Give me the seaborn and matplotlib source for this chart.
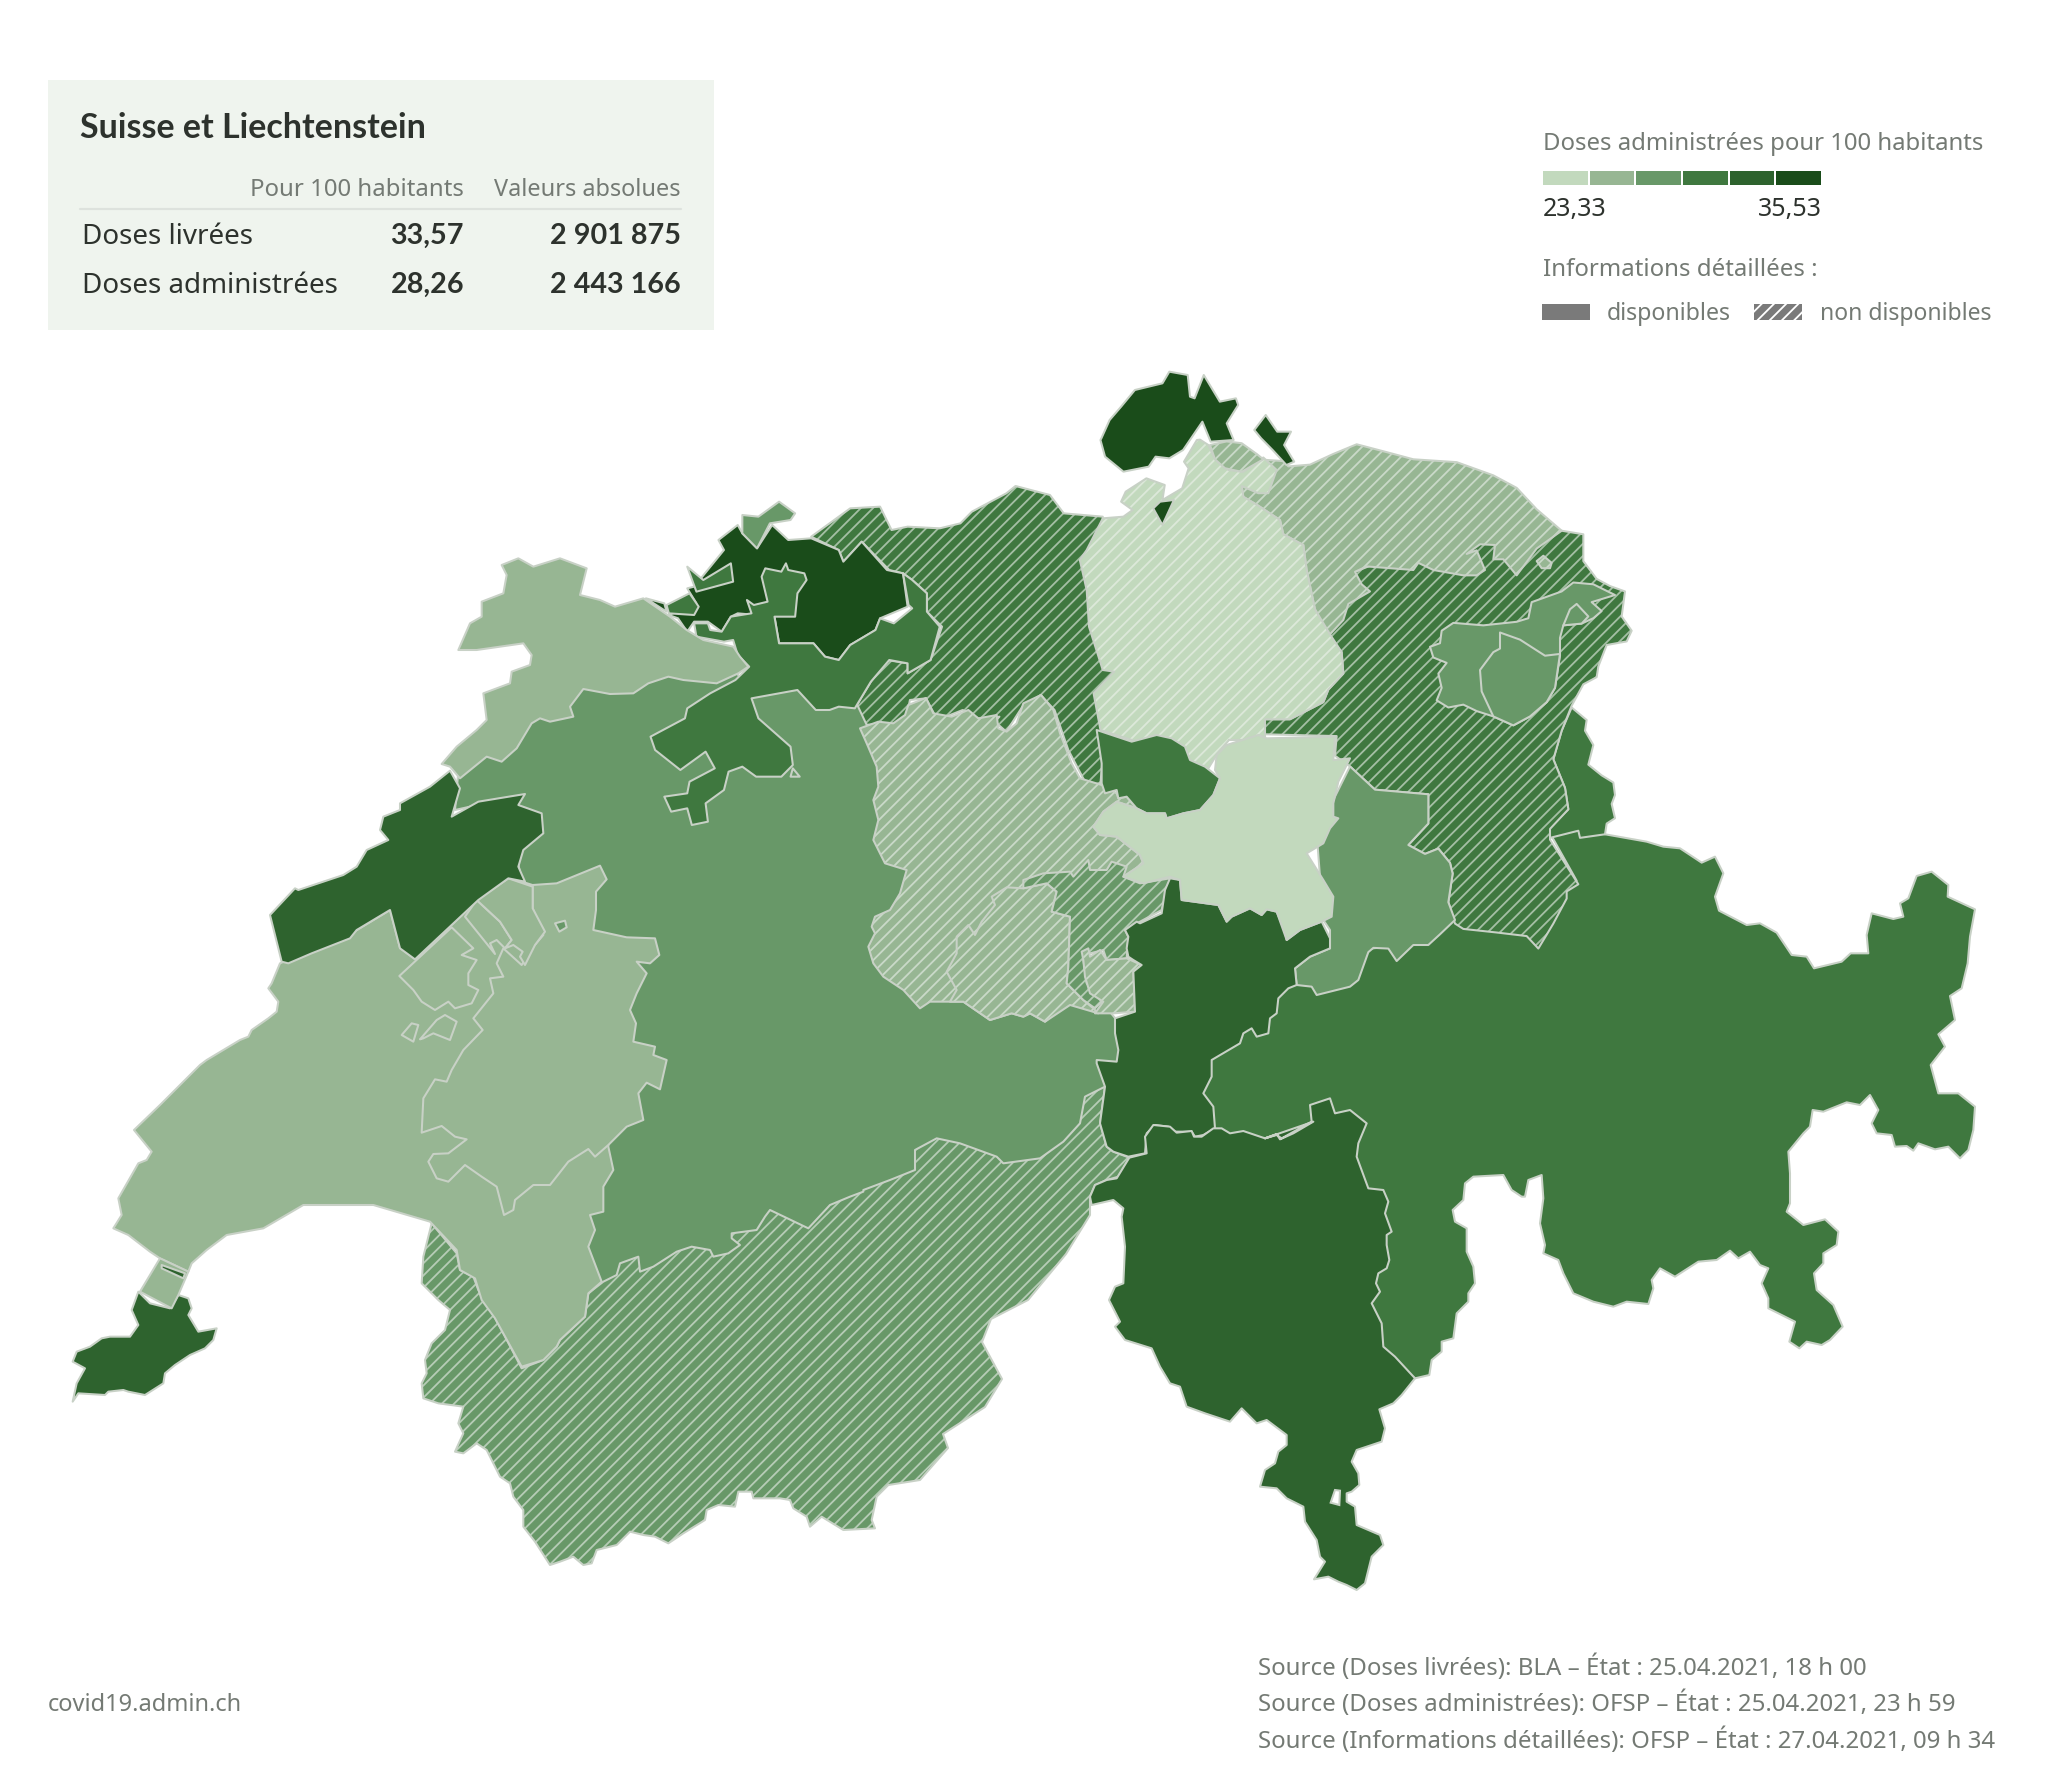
"""Doses de vaccin administrées par canton, Suisse et Liechtenstein."""

import numpy as np
import matplotlib.pyplot as plt
import seaborn as sns
from matplotlib.colors import ListedColormap, to_rgb
from matplotlib.patches import Rectangle

DPI = 110
W, H = 2048, 1772

# colours of the six classes
level_colors = ["#c2d9bd", "#97b693", "#689868", "#3f783f", "#2e632e", "#1a4c1a"]
edge_color = "#c8d1c6"

box_title = "Suisse et Liechtenstein"
box_headers = ["Pour 100 habitants", "Valeurs absolues"]
box_rows = ["Doses livrées", "Doses administrées"]
box_per_100 = ["33,57", "28,26"]
box_absolute = ["2 901 875", "2 443 166"]

legend_title = "Doses administrées pour 100 habitants"
legend_min, legend_max = "23,33", "35,53"
legend_info = "Informations détaillées :"
legend_avail = ["disponibles", "non disponibles"]

sources = [
    "Source (Doses livrées): BLA – État : 25.04.2021, 18 h 00",
    "Source (Doses administrées): OFSP – État : 25.04.2021, 23 h 59",
    "Source (Informations détaillées): OFSP – État : 27.04.2021, 09 h 34",
]
site = "covid19.admin.ch"


def crop(view, pts):
    x0, y0, fx, fy = view
    return [(x0 + x / fx, y0 + y / fy) for x, y in pts]


V4 = (600, 360, 2.178, 3)
V5 = (1200, 420, 3, 2.8)
V6 = (340, 850, 3, 3)
V7 = (260, 540, 3, 3)
V8 = (60, 950, 3, 3)
V9 = (850, 700, 3, 3)
V10 = (420, 1130, 3, 3)
V11 = (1090, 1120, 3, 3)
V12 = (1520, 840, 3, 3)

gr = crop(V12, [(380,5),(430,20),(480,25),(545,68),(585,50),(610,100),(585,170),(597,212),(680,255),(720,250),(770,278),(815,345),(860,350),(882,385),(965,365),(992,340),(1045,340),(1040,285),(1055,220),(1120,237),(1150,230),(1140,190),(1165,175),(1190,108),(1235,95),(1285,135),(1283,170),(1365,208),(1350,290),(1343,370),(1325,445),(1290,468),(1305,540),(1255,583),(1275,620),(1232,675),(1255,760),(1315,760),(1365,800),(1360,870),(1345,930),(1320,955),(1285,920),(1245,928),(1195,910),(1180,932),(1160,918),(1125,920),(1115,885),(1070,880),(1055,850),(1075,810),(1050,765),(1020,795),(980,787),(910,815),(878,810),(870,860),(850,880),(805,935),(810,1000),(810,1090),(800,1115),(850,1155),(915,1138),(955,1175),(950,1215),(910,1240),(910,1270),(882,1300),(890,1350),(940,1395),(968,1460),(930,1500),(905,1515),(860,1505),(838,1525),(808,1505),(825,1445),(745,1405),(745,1375),(725,1330),(745,1285),(720,1275),(690,1235),(655,1255),(630,1232),(590,1260),(535,1265),(465,1310),(420,1285),(395,1320),(400,1345),(385,1392),(320,1385),(280,1400),(220,1385),(160,1360),(130,1300),(115,1260),(70,1240),(75,1215),(60,1150),(70,1075),(65,1005),(25,1020),(15,1070)]) \
    + crop(V11, [(1295,230),(1265,210),(1240,165),(1150,170),(1125,190),(1120,240),(1088,270),(1095,305),(1130,325),(1130,395),(1150,440),(1155,490),(1135,520),(1135,545),(1100,580),(1090,655),(1055,665),(1055,695),(1025,720),(1018,765),(975,775),(860,690),(820,550),(840,440),(790,110),(500,100),(200,100)]) \
    + crop(V9, [(1050,1200),(1050,1090),(1160,1000),(1200,970),(1250,980),(1270,890),(1330,850)]) \
    + crop(V5, [(510,1480),(630,1470),(720,1400),(790,1400),(1000,1420),(1040,1400),(1080,1300),(1130,1290),(1040,1140),(1140,1130),(1200,1130),(1215,1160)])

fl = crop(V5, [(1115,805),(1160,840),(1155,870),(1180,910),(1165,965),(1205,995),(1240,1015),(1245,1050),(1235,1075),(1245,1115),(1220,1130),(1215,1160),(1140,1170),(1135,1150),(1050,1170),(1045,1145),(1105,1090),(1095,1030),(1060,950),(1085,870)])

sg = crop(V5, [(1085,310),(1150,320),(1150,395),(1190,445),(1230,465),(1275,480),(1265,550),(1295,590),(1280,620),(1220,630),(1195,690),(1190,720),(1150,740),(1115,800),(1085,870),(1060,950),(1095,1030),(1105,1090),(1050,1145),(1050,1175),(1135,1300),(1100,1320),(1100,1340),(1060,1410),(1015,1480),(980,1445),(890,1435),(790,1425),(765,1410),(745,1350),(758,1270),(750,1240),(715,1200),(675,1215),(625,1190),(685,1130),(685,1048),(525,1035),(450,970),(405,940),(410,885),(195,880),(195,838),(270,838),(370,790),(385,755),(430,710),(425,650),(385,605),(465,425),(800,300)])

ar = crop(V5, [(690,635),(720,625),(725,590),(760,568),(850,575),(950,565),(985,555),(995,510),(1085,480),(1120,455),(1180,460),(1245,490),(1175,510),(1205,535),(1180,555),(1145,570),(1090,575),(1080,610),(1080,660),(1065,750),(1040,790),(990,830),(940,855),(880,830),(830,815),(790,797),(745,805),(710,785),(725,750),(715,710),(740,680),(700,665)])
ai = crop(V5, [(900,595),(960,615),(1035,660),(1080,655),(1065,750),(1040,790),(990,830),(940,855),(880,830),(845,760),(840,700),(880,650),(900,640)])
ai_small = crop(V5, [(1090,575),(1110,530),(1130,515),(1165,550),(1145,570)])

tg = crop(V5, [(170,110),(250,115),(265,130),(330,125),(400,95),(470,68),(560,90),(640,110),(770,118),(880,155),(950,190),(1010,250),(1085,310),(1010,360),(950,435),(910,390),(880,390),(885,350),(840,348),(800,375),(830,365),(855,420),(830,435),(790,435),(700,420),(655,400),(640,420),(570,415),(500,410),(465,425),(485,460),(510,480),(445,515),(430,560),(385,605),(345,530),(320,420),(310,350),(250,320),(240,280),(175,240),(130,215),(125,185)])
tg_small = crop(V5, [(30,70),(45,110),(75,135),(125,145),(190,110),(170,95),(125,65),(80,60)])
tg_lake = crop(V5, [(1010,395),(1030,380),(1055,400),(1050,415),(1025,415)])

zh = crop(V4, [(1095,475),(1060,570),(1045,600),(1060,690),(1065,800),(1095,930),(1120,935),(1075,1000),(1090,1110),(1170,1145),(1210,1125),(1250,1140),(1290,1215),(1325,1225),(1345,1180),(1370,1140)]) \
    + crop(V5, [(87,896),(195,896),(195,838),(270,838),(370,790),(385,755),(430,710),(425,650),(390,600),(345,530),(320,420),(310,350),(250,320),(240,280),(175,240),(130,215),(125,185),(175,205),(205,205),(230,140),(190,105),(130,145),(85,140),(45,110),(25,70),(0,55)]) \
    + crop(V4, [(1300,240),(1272,305),(1282,325),(1268,385),(1225,420),(1230,375),(1190,355),(1145,395),(1135,425),(1160,450),(1140,470)])

sh = crop(V4, [(1092,235),(1110,180),(1135,140),(1165,90),(1225,70),(1240,35),(1280,45),(1285,110),(1295,115),(1315,45),(1350,125),(1385,115),(1390,135),(1365,190),(1380,240),(1330,245),(1312,185),(1270,270),(1240,295),(1210,290),(1195,320),(1140,335),(1100,290),(1090,240)])
sh_east = crop(V4, [(1450,165),(1475,215),(1505,215),(1490,255),(1512,305),(1495,315),(1465,270),(1440,235),(1425,210)])
sh_small = crop(V4, [(1205,445),(1220,425),(1250,420),(1225,495)])

gl = crop(V5, [(450,970),(525,1035),(685,1048),(685,1130),(625,1190),(675,1215),(715,1200),(750,1240),(758,1270),(745,1350),(765,1400),(720,1440),(685,1470),(640,1470),(590,1515),(565,1480),(520,1478),(505,1490),(475,1568)]) \
    + crop(V9, [(1500,860),(1400,885),(1385,860),(1340,855),(1335,805),(1380,770),(1440,745),(1440,690),(1420,660),(1400,400)])

be = [(1115,1018),(1125,1050),(1120,1100),(1090,1130),(1000,1200),(800,1270),(640,1330),(585,1300),(570,1200),(600,1050),(560,920),(523,885),(515,850),(500,800),(455,810),(458,775),(530,715),(580,680),(680,670),(735,668),(745,690),(800,685),(855,700),(870,732),(900,740),(960,900),(1040,960),(1100,1000)]

vs = crop(V10, [(35,280),(10,380),(5,460),(55,510),(90,540),(75,600),(35,640),(15,690),(20,730),(5,760),(10,805),(55,820),(130,830),(115,880),(130,910),(105,965),(130,970),(170,940),(200,960),(240,1040),(270,1060),(280,1100),(310,1140),(310,1190),(345,1235),(390,1305),(420,1295),(460,1280),(490,1305),(515,1300),(530,1260),(590,1245),(630,1205),(670,1215),(705,1220),(745,1240),(790,1210),(855,1170),(860,1140),(895,1125),(945,1130),(955,1085),(995,1085),(1000,1105),(1080,1105),(1110,1110),(1120,1135),(1160,1160),(1170,1190),(1205,1160),(1270,1200),(1365,1195),(1355,1170),(1370,1100),(1405,1065),(1500,1050)]) \
    + [(948,1448),(943,1434),(985,1407),(1002,1379),(982,1342),(991,1319),(1028,1300),(1066,1254),(1090,1215)] \
    + crop(V11, [(0,230),(15,195),(50,180),(85,170),(118,113)]) \
    + crop(V9, [(790,1355),(770,1340),(750,1270),(765,1160),(705,1190),(690,1270),(640,1325),(570,1375),(460,1390),(440,1370),(385,1350),(330,1330),(260,1315),(195,1350),(195,1410),(120,1440),(40,1470)]) \
    + crop(V10, [(1330,185),(1290,200),(1230,225),(1165,295),(1050,240),(1035,260),(1010,300),(935,310),(935,325),(960,345),(925,370),(880,380),(870,360),(815,350),(770,365),(700,410),(660,425),(655,380),(600,400),(590,435),(550,455),(505,490),(495,560),(420,630),(410,650),(370,690),(305,715),(250,610),(215,545),(175,480),(160,440),(120,420),(110,370)])

vd = crop(V8, [(660,40),(635,100),(625,115),(655,155),(650,185),(625,205),(575,240),(565,260),(540,270),(440,330),(420,345),(300,465),(222,540),(275,605),(260,630),(235,640),(175,745),(185,795),(160,835),(205,855),(270,905),(300,925),(385,965),(395,940),(440,900),(500,855),(610,835),(730,765),(940,765),(1110,815),(1190,900),(1200,960),(1245,985),(1265,1050),(1305,1105),(1385,1250)]) \
    + crop(V10, [(370,690),(410,650),(420,630),(495,560),(505,490),(545,455),(505,350),(525,300),(510,255),(550,245),(550,170),(580,120),(565,50)]) \
    + [(615,1000),(580,900),(523,882),(508,878),(478,900),(415,959),(400,948),(390,910),(357,930)]

fr = crop(V6, [(578,105),(650,100),(780,47),(800,88),(768,125),(768,180),(760,240),(860,262),(945,265),(958,315),(930,340),(890,335),(920,370),(890,430),(870,480),(888,520),(880,575),(945,590),(940,615),(980,630),(960,718),(920,698),(895,730),(910,810),(860,830),(805,885),(765,920),(745,897),(685,935),(630,1005),(580,1005),(525,1050),(520,1080),(492,1095),(470,1010),(425,980),(375,945),(325,995),(290,985),(265,935),(280,912),(325,910),(380,868),(345,860),(305,828),(245,848),(250,745),(285,688),(320,695),(335,660),(370,600),(428,540),(400,505),(460,430),(450,385),(490,380),(470,340),(490,295),(545,345),(580,290),(610,255),(578,175)])
vd_p1 = crop(V6, [(178,378),(335,232),(400,295),(365,315),(410,330),(385,370),(385,405),(415,420),(395,460),(345,475),(325,455),(285,480),(245,455),(220,420)])
vd_p3 = crop(V6, [(375,200),(410,150),(480,215),(515,270),(495,295),(470,270),(450,280),(465,312)])
vd_p4 = crop(V6, [(410,150),(505,85),(578,110),(578,175),(615,245),(585,285),(555,345),(540,320),(548,305),(520,285),(495,295),(515,270),(480,215)])
fr_e1 = crop(V6, [(185,555),(215,520),(235,525),(220,575)])
fr_e2 = crop(V6, [(240,568),(290,510),(315,495),(350,515),(330,570),(280,550),(250,565)])
be_e1 = crop(V6, [(645,220),(675,212),(680,232),(658,245)])

ge = crop(V8, [(235,1025),(270,1060),(330,1075),(355,1035),(385,1045),(395,1075),(385,1095),(415,1145),(470,1135),(460,1170),(435,1195),(390,1215),(345,1245),(315,1270),(310,1300),(255,1335),(205,1325),(190,1320),(145,1325),(135,1335),(55,1330),(38,1355),(50,1300),(75,1255),(38,1235),(50,1205),(90,1190),(125,1165),(150,1160),(210,1160),(235,1125),(215,1080)])
vd_celigny = crop(V8, [(300,925),(385,965),(355,1035),(335,1075),(240,1025)])
ge_spot = crop(V8, [(305,945),(375,970),(370,985),(305,955)])

ne = crop(V7, [(30,1125),(105,1045),(115,1050),(250,1005),(290,980),(320,930),(385,900),(360,870),(370,830),(420,810),(420,790),(510,740),(570,692),(600,745),(575,830),(655,785),(795,762),(775,795),(845,820),(850,880),(790,930),(775,980),(795,1025),(745,1015),(655,1080),(465,1258),(420,1225),(390,1110),(290,1170),(270,1195),(155,1240),(85,1270),(65,1265)])
ju = crop(V7, [(725,75),(775,55),(820,80),(900,55),(980,85),(960,165),(1020,180),(1065,200),(1150,175),(1230,230),(1280,270),(1330,300),(1420,320),(1440,350),(1465,380),(1435,400),(1370,430),(1270,420),(1225,410),(1165,430),(1120,460),(1050,462),(970,447),(930,500),(940,530),(870,545),(840,535),(815,550),(770,625),(725,665),(680,650),(600,715),(570,680),(545,672),(590,620),(650,570),(680,540),(670,460),(750,430),(755,395),(810,375),(815,345),(790,310),(650,330),(595,330),(630,250),(665,230),(665,185),(730,160),(740,105)])

ag = crop(V4, [(460,530),(545,445),(610,440),(635,510),(670,500),(740,505),(785,490),(810,455),(885,400),(905,378),(980,405),(1010,460),(1095,470),(1100,700),(1130,940),(1100,1110),(1090,1270),(1060,1275),(1020,1170),(990,1050),(960,1005),(920,1040),(885,1115),(860,1085),(870,1070),(830,1080),(790,1050),(735,1080),(710,1015),(675,1020),(665,1090),(565,1095),(555,1045),(590,965),(625,900),(670,910),(670,940),(720,900),(745,800),(712,755),(712,700),(680,660),(660,640),(630,630),(570,545),(530,605),(520,570)])

bl = crop(V4, [(258,540),(300,495),(310,520),(342,565),(375,495),(410,540),(460,535),(520,570),(530,605),(570,545),(625,630),(660,640),(670,740),(610,775),(600,810),(545,855),(520,900),(490,890),(465,850),(390,850),(380,770),(300,760),(285,770),(265,815),(235,785),(205,785),(190,815),(170,775),(150,765),(210,730),(190,685),(205,680),(270,570)])
bs = crop(V4, [(310,465),(345,470),(390,425),(425,460),(415,480),(370,490),(342,565),(310,520)])
so_small1 = crop(V4, [(145,735),(195,700),(215,740),(205,765),(150,760)])
so_small2 = crop(V4, [(190,620),(225,660),(285,610),(290,665),(210,695)])
bl_spot = crop(V4, [(100,715),(140,730),(145,755)])
so = crop(V4, [(205,790),(235,790),(240,810),(265,815),(285,770),(330,760),(320,720),(335,735),(365,725),(352,650),(360,625),(395,635),(405,610),(410,630),(445,640),(450,660),(430,700),(425,770),(380,770),(390,850),(465,850),(490,890),(520,900),(545,855),(600,810),(610,775),(640,790),(680,745),(672,735),(660,640),(680,660),(712,700),(712,755),(740,800),(720,900),(670,940),(670,910),(630,900),(590,965),(555,1045),(520,1040),(500,1050),(470,1050),(430,990),(330,1015),(345,1075),(415,1160),(420,1215),(395,1250),(340,1250),(310,1220),(280,1235),(270,1290),(230,1330),(235,1385),(200,1395),(190,1345),(155,1355),(140,1310),(190,1300),(195,1265),(250,1225),(230,1175),(175,1230),(120,1170),(110,1130),(185,1075),(190,1045),(240,1000),(295,960),(325,920),(300,885),(290,840),(270,845),(210,830)])
be_e2 = crop(V4, [(420,1225),(435,1250),(415,1250)])

lu = crop(V9, [(30,85),(85,65),(130,70),(165,45),(175,15),(228,-6),(250,40),(305,50),(355,30),(385,55),(440,45),(445,85),(470,95),(500,70),(520,10),(573,-15),(610,30),(630,100),(665,190),(690,235),(755,255),(800,280),(805,295),(830,290),(860,325),(800,305),(760,335),(730,380),(750,405),(800,410),(870,465),(880,490),(820,530),(780,560),(700,700),(660,900),(585,965),(540,940),(520,950),(485,940),(420,960),(340,905),(240,905),(210,925),(160,870),(100,830),(70,790),(55,740),(75,700),(65,680),(75,650),(120,630),(150,580),(170,510),(105,490),(70,420),(85,360),(70,300),(85,260),(80,200),(50,130)])
ow = crop(V9, [(300,905),(320,870),(290,815),(320,760),(320,710),(355,675),(375,705),(395,665),(435,615),(425,590),(470,562),(520,565),(590,550),(620,575),(605,635),(660,650),(655,800),(650,850),(700,900),(730,925),(745,940),(660,915),(585,965),(540,940),(520,950),(485,940),(420,960),(340,905)])
nw = crop(V9, [(520,540),(580,520),(660,515),(670,530),(715,480),(720,510),(770,510),(785,485),(830,500),(820,530),(870,550),(960,535),(935,630),(870,665),(825,690),(835,710),(830,775),(770,780),(760,750),(720,760),(700,780),(710,850),(755,905),(735,925),(700,900),(650,850),(655,800),(660,650),(605,635),(620,575),(590,550),(520,565)])
ow_small = crop(V9, [(695,755),(715,745),(720,770),(750,750),(770,780),(830,775),(875,795),(850,815),(855,935),(790,940),(735,940),(760,905),(720,880),(705,830),(700,780)])

zg = crop(V9, [(740,90),(770,100),(845,125),(920,105),(965,115),(1005,140),(1020,180),(1065,200),(1110,235),(1090,285),(1050,330),(1000,340),(950,355),(945,340),(890,340),(860,325),(830,290),(805,295),(800,270),(765,280),(755,250),(755,190)])
ur = crop(V9, [(960,535),(990,540),(995,600),(1105,615),(1130,665),(1145,650),(1200,625),(1235,645),(1250,628),(1280,635),(1305,695),(1310,720),(1350,690),(1415,665),(1440,715),(1440,745),(1380,770),(1335,805),(1340,855),(1315,865),(1285,895),(1280,940),(1260,955),(1255,1000),(1220,1010),(1205,985),(1180,1000),(1170,1030),(1085,1080),(1085,1130),(1060,1180),(1090,1220),(1095,1285),(1060,1305),(1035,1310),(1025,1295),(975,1295),(955,1280),(915,1275),(890,1300),(885,1360),(835,1370),(790,1355),(770,1340),(750,1270),(765,1160),(740,1090),(740,1080),(800,1085),(805,1050),(795,1000),(795,955),(855,935),(850,815),(875,795),(850,780),(835,770),(830,745),(835,710),(825,690),(860,665),(870,670),(935,640),(945,570)])
sz = crop(V9, [(730,380),(760,335),(800,305),(860,325),(890,340),(945,340),(950,355),(1000,340),(1050,330),(1090,285),(1110,235),(1095,210),(1100,165),(1130,135),(1225,105),(1250,115),(1455,110),(1450,180),(1500,175),(1465,245),(1450,310),(1450,350),(1465,355),(1440,385),(1420,430),(1370,460),(1420,540),(1450,590),(1445,650),(1415,665),(1350,690),(1310,720),(1280,635),(1250,628),(1235,645),(1200,625),(1145,650),(1130,665),(1105,615),(995,600),(990,540),(960,530),(880,550),(820,530),(880,490),(870,465),(800,410),(750,405)])

ti = crop(V11, [(118,113),(170,100),(165,50),(190,15),(240,20),(260,38),(305,33),(312,50),(335,50),(370,25),(395,25),(420,40),(460,33),(525,55),(560,42),(570,58),(610,40),(670,5)]) \
    + crop(V9, [(1245,1315),(1280,1305),(1295,1315),(1385,1265),(1380,1215),(1440,1195),(1455,1240),(1500,1230)]) \
    + crop(V11, [(830,10),(805,70),(800,110),(835,205),(880,210),(895,245),(885,280),(905,335),(890,345),(890,375),(898,420),(890,445),(865,460),(858,490),(870,515),(845,550),(875,610),(880,680),(915,710),(975,775),(935,825),(910,850),(868,868),(885,925),(875,965),(800,990),(785,1025),(805,1060),(808,1095),(785,1115),(770,1120),(770,1145),(795,1160),(800,1215),(870,1245),(880,1275),(845,1310),(825,1390),(800,1410),(770,1395),(745,1385),(715,1370),(672,1378),(705,1325),(690,1310),(680,1260),(645,1205),(640,1160),(590,1135),(560,1105),(510,1100),(525,1050),(555,1030),(565,995),(590,975),(590,945),(530,900),(500,910),(455,865),(420,905),(375,890),(345,880),(290,860),(270,800),(240,790),(210,740),(185,685),(105,660),(75,620),(90,605),(57,540),(75,500),(100,490),(105,380),(95,290),(100,265),(70,240),(5,255),(0,230),(15,195),(50,180),(80,175)])
ti_lake = crop(V11, [(735,1110),(750,1112),(748,1155),(722,1148)])

# outline, class (0-5), hatched = no detailed information, in drawing order
cantons = [
    (gr, 3, False), (fl, 3, False), (sg, 3, True), (ar, 2, False), (ai, 2, False),
    (ai_small, 2, False), (ag, 3, True), (tg, 1, True), (tg_lake, 1, True), (zh, 0, True), (tg_small, 1, True),
    (sh, 5, False), (sh_east, 5, False), (sh_small, 5, False), (gl, 2, False),
    (be, 2, False), (vs, 2, True), (vd, 1, False), (fr, 1, False), (vd_p1, 1, False),
    (vd_p3, 1, False), (vd_p4, 1, False), (fr_e1, 1, False), (fr_e2, 1, False), (be_e1, 2, False),
    (ge, 4, False), (vd_celigny, 1, False), (ge_spot, 4, False), (ne, 4, False),
    (bl, 5, False), (bs, 2, False), (so, 3, False), (so_small1, 3, False), (so_small2, 3, False),
    (bl_spot, 5, False), (be_e2, 2, False), (ju, 1, False), (lu, 1, True), (ow, 1, True),
    (nw, 2, True), (ow_small, 1, True), (zg, 3, False), (ur, 4, False), (sz, 0, False), (ti, 4, False),
]

sns.set_theme(style="white")
plt.rcParams["font.family"] = ["Noto Sans", "DejaVu Sans"]
plt.rcParams["hatch.linewidth"] = 1.2

palette = sns.color_palette(level_colors)


def lighter(color, amount=0.58):
    c = np.array(to_rgb(color))
    return tuple(c + (np.array(to_rgb("#eef2ee")) - c) * amount)


def px(size):
    return size * 72 / DPI


fig = plt.figure(figsize=(W / DPI, H / DPI), dpi=DPI)
ax = fig.add_axes([0, 0, 1, 1])
ax.set_xlim(0, W)
ax.set_ylim(H, 0)
sns.despine(ax=ax, left=True, bottom=True)
ax.set_xticks([])
ax.set_yticks([])

for outline, level, hatched in cantons:
    xs, ys = zip(*outline)
    color = palette[level]
    if hatched:
        ax.fill(xs, ys, facecolor=color, edgecolor=lighter(color), hatch="///", linewidth=0)
    else:
        ax.fill(xs, ys, facecolor=color, linewidth=0)
    ax.fill(xs, ys, facecolor="none", edgecolor=edge_color, linewidth=1.34, joinstyle="round")

xs, ys = zip(*ti_lake)
ax.fill(xs, ys, facecolor="white", edgecolor=edge_color, linewidth=1.34)

# summary box
ink = "#2d322d"
grey = "#747a74"
bold = ["Lato", "DejaVu Sans"]
ax.add_patch(Rectangle((48, 80), 666, 250, facecolor="#eff4ee", edgecolor="none"))
ax.text(80, 138, box_title, fontsize=px(34), color=ink, fontweight="bold", family=bold, va="baseline")
ax.text(464, 196, box_headers[0], fontsize=px(24), color=grey, ha="right", va="baseline")
ax.text(680, 196, box_headers[1], fontsize=px(23.5), color=grey, ha="right", va="baseline")
ax.plot([80, 681], [209, 209], color="#dde2dd", lw=1.4)
for i, base in enumerate([244, 293]):
    ax.text(82, base, box_rows[i], fontsize=px(27.8), color=ink, va="baseline")
    ax.text(464, base, box_per_100[i], fontsize=px(28.8), color=ink, fontweight="bold", family=bold, ha="right", va="baseline")
    ax.text(681, base, box_absolute[i], fontsize=px(28.8), color=ink, fontweight="bold", family=bold, ha="right", va="baseline")

# class legend
ax.text(1543, 150, legend_title, fontsize=px(23.9), color=grey, va="baseline")
cax = fig.add_axes([1542 / W, 1 - 186 / H, 280 / W, 16 / H])
sns.heatmap(np.arange(6).reshape(1, 6), cmap=ListedColormap(level_colors), cbar=False,
            linewidths=1.16, linecolor="white", xticklabels=False, yticklabels=False, ax=cax)
ax.text(1543, 216, legend_min, fontsize=px(25), color=ink, va="baseline")
ax.text(1822, 216, legend_max, fontsize=px(25), color=ink, ha="right", va="baseline")
ax.text(1543, 276, legend_info, fontsize=px(24), color=grey, va="baseline")
ax.add_patch(Rectangle((1542, 304), 48, 16, facecolor="#7a7a7a", edgecolor="none"))
ax.text(1607, 320, legend_avail[0], fontsize=px(23.2), color=grey, va="baseline")
ax.add_patch(Rectangle((1754, 304), 48, 16, facecolor="#7a7a7a", edgecolor="white", hatch="///", linewidth=0))
ax.text(1820, 320, legend_avail[1], fontsize=px(23), color=grey, va="baseline")

# footer
ax.text(48, 1711, site, fontsize=px(23.6), color=grey, va="baseline")
for text, base in zip(sources, [1675, 1711, 1748]):
    ax.text(1258, base, text, fontsize=px(24), color=grey, va="baseline")

fig.savefig("out.png", dpi=DPI)
